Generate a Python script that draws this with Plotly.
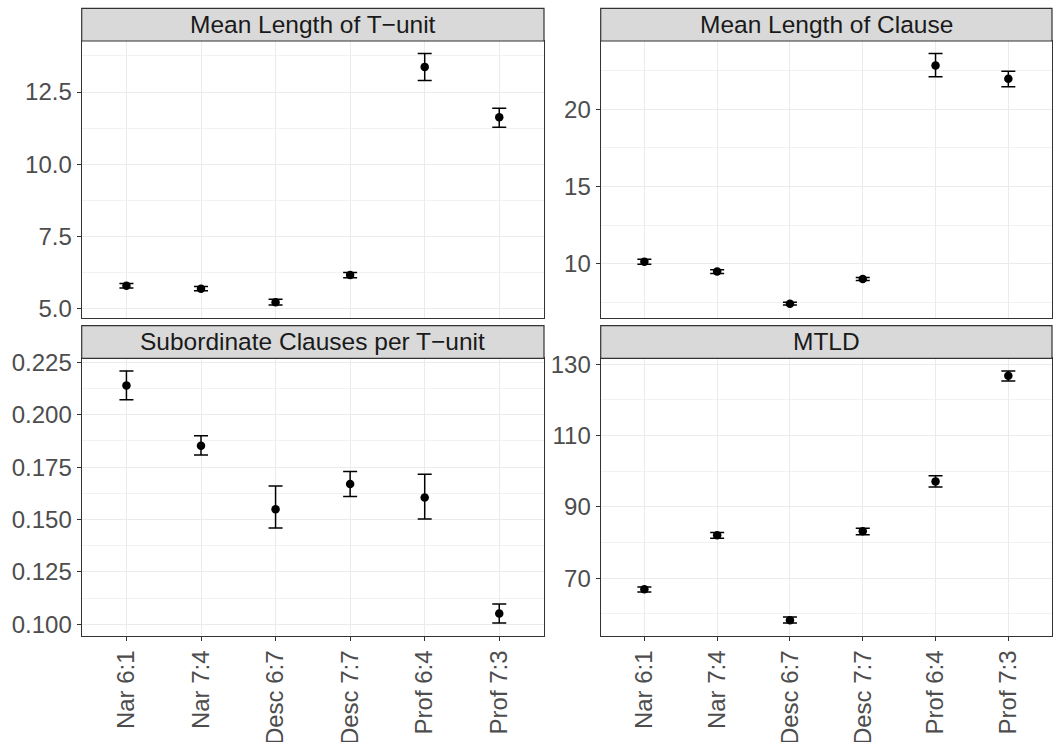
import plotly.graph_objects as go

categories = ["Nar 6:1", "Nar 7:4", "Desc 6:7", "Desc 7:7", "Prof 6:4", "Prof 7:3"]

panel_titles = ["Mean Length of T\u2212unit", "Mean Length of Clause",
                "Subordinate Clauses per T\u2212unit", "MTLD"]

mlt_mean = [5.80, 5.70, 5.23, 6.17, 13.37, 11.63]
mlt_low = [5.72, 5.63, 5.13, 6.08, 12.90, 11.28]
mlt_high = [5.88, 5.77, 5.33, 6.26, 13.83, 11.94]

mlc_mean = [10.15, 9.51, 7.43, 9.03, 22.83, 21.97]
mlc_low = [9.99, 9.39, 7.34, 8.93, 22.10, 21.46]
mlc_high = [10.31, 9.63, 7.52, 9.13, 23.60, 22.45]

sct_mean = [0.2139, 0.1852, 0.1549, 0.1669, 0.1605, 0.1052]
sct_low = [0.2072, 0.1808, 0.1460, 0.1610, 0.1503, 0.1006]
sct_high = [0.2209, 0.1900, 0.1660, 0.1729, 0.1716, 0.1097]

mtld_mean = [66.9, 82.05, 58.2, 83.17, 97.13, 126.74]
mtld_low = [66.1, 81.2, 57.4, 82.15, 95.55, 125.25]
mtld_high = [67.5, 82.8, 59.1, 84.0, 98.7, 128.1]

panels = [
    (mlt_mean, mlt_low, mlt_high),
    (mlc_mean, mlc_low, mlc_high),
    (sct_mean, sct_low, sct_high),
    (mtld_mean, mtld_low, mtld_high),
]

W, H = 1055, 742
xdoms = [[81.7 / W, 544 / W], [600.7 / W, 1052 / W]]
ydoms = [[(H - 317.7) / H, (H - 41) / H], [(H - 635.7) / H, (H - 358.3) / H]]
strip_y = [[(H - 41) / H, (H - 8.3) / H], [(H - 358.3) / H, (H - 325.7) / H]]

FONT = "Liberation Sans, Arial, sans-serif"
TICKCOL = "#4D4D4D"
BORDER = "#333333"
GRID = "#EBEBEB"

fig = go.Figure()

ytick_cfg = [
    dict(dtick=2.5, tick0=0, tickformat=".1f", minor_dtick=1.25),
    dict(dtick=5, tick0=0, tickformat="d", minor_dtick=2.5),
    dict(dtick=0.025, tick0=0, tickformat=".3f", minor_dtick=0.0125),
    dict(dtick=20, tick0=10, tickformat="d", minor_dtick=10),
]

layout = {}
shapes = []
annotations = []
for i, (mean, low, high) in enumerate(panels):
    n = i + 1
    row, col = divmod(i, 2)
    xa = "x" if n == 1 else f"x{n}"
    ya = "y" if n == 1 else f"y{n}"
    fig.add_trace(go.Scatter(
        x=categories, y=mean, mode="markers",
        marker=dict(color="black", size=8.5),
        error_y=dict(type="data", symmetric=False,
                     array=[h - m for h, m in zip(high, mean)],
                     arrayminus=[m - l for m, l in zip(mean, low)],
                     color="black", thickness=1.5, width=7),
        xaxis=xa, yaxis=ya, showlegend=False, hoverinfo="skip"))
    lo, hi = min(low), max(high)
    pad = (hi - lo) * 0.05
    cfg = ytick_cfg[i]
    xkey = "xaxis" if n == 1 else f"xaxis{n}"
    ykey = "yaxis" if n == 1 else f"yaxis{n}"
    layout[xkey] = dict(
        domain=xdoms[col], anchor=ya, type="category",
        categoryorder="array", categoryarray=categories,
        range=[-0.6, len(categories) - 0.4],
        showgrid=True, gridcolor=GRID, gridwidth=1.3,
        showline=True, linecolor=BORDER, linewidth=1.2, mirror=True,
        ticks="outside" if row == 1 else "", ticklen=4, tickcolor=BORDER,
        showticklabels=(row == 1), tickangle=-90,
        tickfont=dict(family=FONT, size=24, color=TICKCOL),
        zeroline=False, fixedrange=True, automargin=False)
    layout[ykey] = dict(
        domain=ydoms[row], anchor=xa,
        range=[lo - pad, hi + pad],
        tickmode="linear", dtick=cfg["dtick"], tick0=cfg["tick0"],
        tickformat=cfg["tickformat"],
        minor=dict(dtick=cfg["minor_dtick"], tick0=cfg["tick0"], showgrid=True,
                   gridcolor="#F2F2F2", gridwidth=0.8, ticks=""),
        showgrid=True, gridcolor=GRID, gridwidth=1.3,
        showline=True, linecolor=BORDER, linewidth=1.2, mirror=True,
        ticks="outside", ticklen=4, tickcolor=BORDER,
        tickfont=dict(family=FONT, size=24, color=TICKCOL),
        zeroline=False, fixedrange=True, automargin=False)
    shapes.append(dict(type="rect", xref="paper", yref="paper",
                       x0=xdoms[col][0], x1=xdoms[col][1],
                       y0=strip_y[row][0], y1=strip_y[row][1],
                       fillcolor="#D9D9D9", line=dict(color=BORDER, width=1.2),
                       layer="above"))
    annotations.append(dict(text=panel_titles[i], xref="paper", yref="paper",
                            x=(xdoms[col][0] + xdoms[col][1]) / 2,
                            y=(strip_y[row][0] + strip_y[row][1]) / 2,
                            xanchor="center", yanchor="middle", showarrow=False,
                            font=dict(family=FONT, size=24.5, color="#1A1A1A")))

fig.update_layout(
    width=W, height=H, autosize=False,
    margin=dict(l=0, r=0, t=0, b=0, pad=0),
    paper_bgcolor="white", plot_bgcolor="white",
    shapes=shapes, annotations=annotations,
    **layout)

fig.write_html("out.html", config={"displayModeBar": False},
               post_script="document.body.style.margin='0px';document.body.style.overflow='hidden';")
